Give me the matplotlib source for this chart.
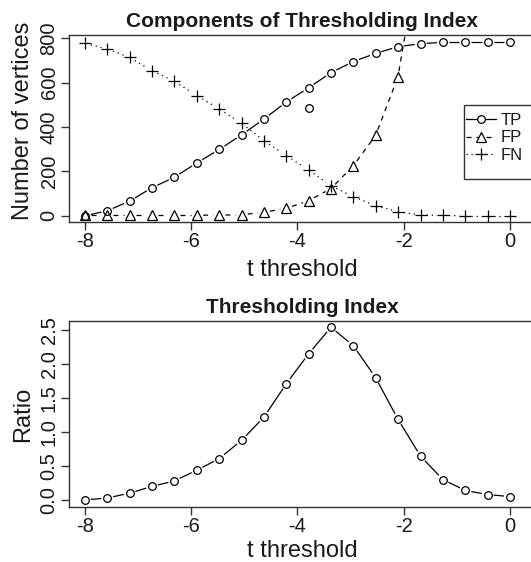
import numpy as np
import matplotlib
matplotlib.use("Agg")
import matplotlib.pyplot as plt
from matplotlib.collections import LineCollection
from matplotlib.lines import Line2D
from matplotlib.patches import Rectangle

# ---------------- data ----------------
t_threshold = [-8.00, -7.58, -7.16, -6.74, -6.32, -5.89, -5.47, -5.05, -4.63, -4.21,
               -3.79, -3.37, -2.95, -2.53, -2.11, -1.68, -1.26, -0.84, -0.42, 0.00]
tp = [0, 22, 66, 126, 173, 239, 299, 365, 436, 513,
      577, 645, 695, 732, 762, 776, 782, 782, 782, 782]
fp = [2, 2, 2, 2, 2, 2, 3, 4, 16, 33,
      68, 122, 225, 362, 625, 1230, 2600, 5580, 9770, 15600]
fn = [777, 752, 714, 654, 607, 541, 481, 416, 338, 271,
      206, 135, 86, 45, 18, 3, 1, 0, 0, 0]
tp_extra_x = [-3.79]
tp_extra_y = [488]
ratio = [0.00, 0.03, 0.10, 0.20, 0.28, 0.44, 0.61, 0.88, 1.22, 1.71,
         2.15, 2.54, 2.27, 1.80, 1.19, 0.64, 0.30, 0.14, 0.08, 0.05]
x_ticks = [-8, -6, -4, -2, 0]
top_yticks = [0, 200, 400, 600, 800]
bot_yticks = [0.0, 0.5, 1.0, 1.5, 2.0, 2.5]
bot_ytick_labels = ["0.0", "0.5", "1.0", "1.5", "2.0", "2.5"]
legend_labels = ["TP", "FP", "FN"]

# ---------------- style ----------------
plt.rcParams['font.family'] = ['Liberation Sans', 'DejaVu Sans']
W, H = 531, 562
DPI = 100
fig = plt.figure(figsize=(W / DPI, H / DPI), dpi=DPI)
TXT = '#1a1a1a'
FRAME = '#333333'
TICK_FS = 14.5
LAB_FS = 17
TITLE_FS = 15


def px_axes(left, top, right, bottom):
    return fig.add_axes([left / W, 1 - bottom / H, (right - left) / W, (bottom - top) / H])


def style_axes(ax):
    for s in ax.spines.values():
        s.set_color(FRAME)
        s.set_linewidth(1.0)
    ax.tick_params(axis='both', direction='out', length=5.5, width=1.0, color=FRAME,
                   labelsize=TICK_FS, labelcolor=TXT)
    ax.tick_params(axis='x', pad=1.5)
    ax.tick_params(axis='y', pad=2)


def draw_b(ax, xs, ys, gap_px, ls, marker, ms, mew=0.9, mfc='none'):
    """R type='b': line segments with gaps around the points."""
    pts = ax.transData.transform(np.column_stack([xs, ys]))
    inv = ax.transData.inverted()
    segs = []
    for p0, p1 in zip(pts[:-1], pts[1:]):
        d = p1 - p0
        L = np.hypot(*d)
        if L <= 2 * gap_px:
            continue
        u = d / L
        a = inv.transform(p0 + u * gap_px)
        b = inv.transform(p1 - u * gap_px)
        segs.append([a, b])
    lc = LineCollection(segs, colors='black', linewidths=0.9, linestyles=ls)
    ax.add_collection(lc)
    ax.plot(xs, ys, linestyle='none', marker=marker, ms=ms, mew=mew, mfc=mfc,
            mec='black', color='black', clip_on=True)


# ---------------- top panel ----------------
ax1 = px_axes(69, 35, 536, 222)
ax1.set_xlim(-8.301, 0.49)
ax1.set_ylim(-28.4, 815)
style_axes(ax1)
ax1.set_xticks(x_ticks)
ax1.set_xticklabels([str(v) for v in x_ticks])
ax1.set_yticks(top_yticks)
ax1.set_yticklabels([str(v) for v in top_yticks], rotation=90, va='center')

draw_b(ax1, t_threshold, tp, 6, 'solid', 'o', 5.5)
draw_b(ax1, t_threshold, fp, 6, (0, (4, 4)), '^', 6.5)
draw_b(ax1, t_threshold, fn, 6, (0, (1, 3)), '+', 8)
ax1.plot(tp_extra_x, tp_extra_y, linestyle='none', marker='o', ms=5.5, mew=0.9,
         mfc='none', mec='black')

ax1.set_title("Components of Thresholding Index", fontsize=TITLE_FS, fontweight='bold',
              color=TXT, pad=6)
ax1.set_xlabel("t threshold", fontsize=LAB_FS, color=TXT, labelpad=6)
ax1.set_ylabel("Number of vertices", fontsize=LAB_FS, color=TXT)
ax1.yaxis.set_label_coords(-0.075, 0.54)

handles = [
    Line2D([], [], color='black', lw=0.9, ls='solid', marker='o', ms=5.5, mfc='white', mew=0.9),
    Line2D([], [], color='black', lw=0.9, ls=(0, (4, 4)), marker='^', ms=6.5, mfc='white', mew=0.9),
    Line2D([], [], color='black', lw=0.9, ls=(0, (1, 3)), marker='+', ms=8, mew=0.9),
]
# legend box (R style, runs off the right edge)
box = Rectangle((464 / W, 1 - 179 / H), (545 - 464) / W, (179 - 105) / H,
                transform=fig.transFigure, facecolor='white', edgecolor=FRAME,
                linewidth=1.0, clip_on=False, zorder=4)
ax1.add_artist(box)
leg = ax1.legend(handles, legend_labels, loc='upper left',
                 bbox_to_anchor=(466 / W, 1 - 113 / H), bbox_transform=fig.transFigure,
                 fontsize=12, frameon=False, borderaxespad=0, borderpad=0,
                 handlelength=1.8, handletextpad=0.3, labelspacing=0.15)
leg.set_zorder(5)
for t in leg.get_texts():
    t.set_color(TXT)

# ---------------- bottom panel ----------------
ax2 = px_axes(69, 321, 536, 507)
ax2.set_xlim(-8.301, 0.49)
ax2.set_ylim(-0.103, 2.632)
style_axes(ax2)
ax2.set_xticks(x_ticks)
ax2.set_xticklabels([str(v) for v in x_ticks])
ax2.set_yticks(bot_yticks)
ax2.set_yticklabels(bot_ytick_labels, rotation=90, va='center')

draw_b(ax2, t_threshold, ratio, 6, 'solid', 'o', 5.5)

ax2.set_title("Thresholding Index", fontsize=TITLE_FS, fontweight='bold', color=TXT, pad=6)
ax2.set_xlabel("t threshold", fontsize=LAB_FS, color=TXT, labelpad=3)
ax2.set_ylabel("Ratio", fontsize=LAB_FS, color=TXT)
ax2.yaxis.set_label_coords(-0.075, 0.5)

fig.savefig("out.png", dpi=DPI, facecolor='white')
